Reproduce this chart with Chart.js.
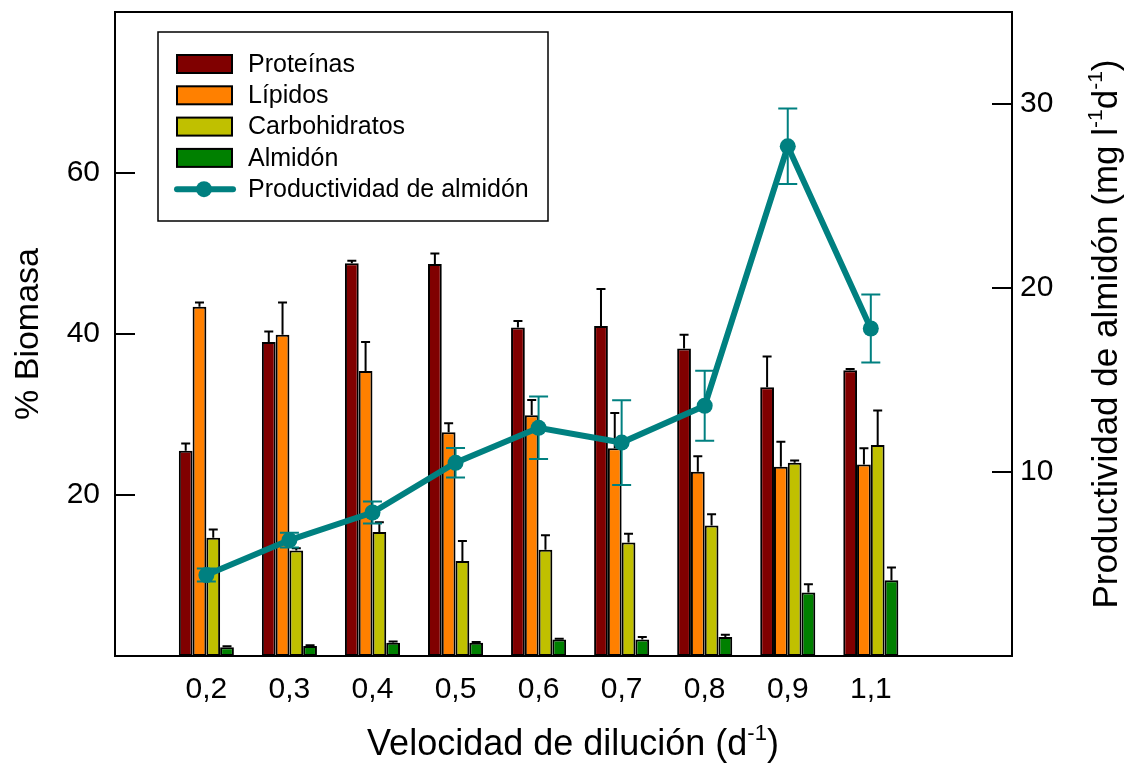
<!DOCTYPE html>
<html>
<head>
<meta charset="utf-8">
<script src="https://cdn.jsdelivr.net/npm/chart.js@4.4.1/dist/chart.umd.min.js"></script>
<style>
  html, body { margin: 0; padding: 0; background: #fff; }
  canvas { display: block; }
</style>
</head>
<body>
<canvas id="chart" width="1126" height="767"></canvas>
<script>
// Dilution rates (d-1)
const categories = ['0,2', '0,3', '0,4', '0,5', '0,6', '0,7', '0,8', '0,9', '1,1'];

// Biomass composition (%), mean and standard deviation
const proteinas        = [25.5, 39.0, 48.8, 48.7, 40.8, 41.0, 38.2, 33.4, 35.5];
const proteinasErr     = [0.9, 1.3, 0.3, 1.3, 0.8, 4.6, 1.7, 3.8, 0.15];
const lipidos          = [43.4, 39.9, 35.4, 27.8, 29.9, 25.8, 22.9, 23.5, 23.8];
const lipidosErr       = [0.5, 4.0, 3.6, 1.1, 1.9, 4.4, 1.9, 3.1, 2.0];
const carbohidratos    = [14.7, 13.1, 15.4, 11.8, 13.2, 14.1, 16.2, 24.0, 26.2];
const carbohidratosErr = [1.0, 0.3, 1.2, 2.5, 1.8, 1.1, 1.4, 0.3, 4.3];
const almidon          = [1.1, 1.25, 1.65, 1.65, 2.05, 2.05, 2.35, 7.9, 9.4];
const almidonErr       = [0.1, 0.1, 0.15, 0.1, 0.1, 0.3, 0.3, 1.0, 1.6];

// Starch productivity (mg l-1 d-1), mean and standard deviation
const productividad    = [4.4, 6.3, 7.8, 10.5, 12.4, 11.6, 13.6, 27.7, 17.8];
const productividadErr = [0.35, 0.4, 0.6, 0.8, 1.7, 2.3, 1.9, 2.05, 1.85];

// Tick values shown on each axis
const biomasaTicks       = [20, 40, 60];
const productividadTicks = [10, 20, 30];

const TEAL = '#008080';
const FONT = "'Liberation Sans', Arial, Helvetica, sans-serif";

const toPoints = (arr) => arr.map((v, i) => ({ x: i + 1, y: v }));

function barSet(label, values, errors, color) {
  return {
    type: 'bar',
    label,
    data: toPoints(values),
    values, errors,
    errorColor: '#000',
    symmetric: false,
    capHalf: 4.5,
    backgroundColor: color,
    borderColor: '#000',
    borderWidth: 2,
    borderSkipped: false,
    yAxisID: 'y',
    order: 1
  };
}

const datasets = [
  barSet('Proteínas', proteinas, proteinasErr, '#800000'),
  barSet('Lípidos', lipidos, lipidosErr, '#FF8000'),
  barSet('Carbohidratos', carbohidratos, carbohidratosErr, '#C0C000'),
  barSet('Almidón', almidon, almidonErr, '#008000'),
  {
    type: 'line',
    label: 'Productividad de almidón',
    data: toPoints(productividad),
    values: productividad,
    errors: productividadErr,
    errorColor: TEAL,
    symmetric: true,
    capHalf: 9.5,
    borderColor: TEAL,
    backgroundColor: TEAL,
    borderWidth: 6,
    pointRadius: 8,
    pointBorderWidth: 0,
    pointBackgroundColor: TEAL,
    tension: 0,
    yAxisID: 'y2',
    order: 0
  }
];

// Text with superscripts: parts = [[text, isSup], ...]
function drawRich(ctx, parts, size, cx, baseline) {
  const supSize = Math.round(size * 0.6);
  const widths = parts.map(([t, sup]) => {
    ctx.font = `${sup ? supSize : size}px ${FONT}`;
    return ctx.measureText(t).width;
  });
  const total = widths.reduce((a, b) => a + b, 0);
  let x = cx - total / 2;
  ctx.textAlign = 'left';
  ctx.textBaseline = 'alphabetic';
  parts.forEach(([t, sup], i) => {
    ctx.font = `${sup ? supSize : size}px ${FONT}`;
    ctx.fillText(t, x, sup ? baseline - size * 0.42 : baseline);
    x += widths[i];
  });
}

// Scales keep their fixed box; no extra room reserved for overhanging labels
function noOverhang(scale) {
  scale.paddingTop = 0;
  scale.paddingBottom = 0;
  scale.paddingLeft = 0;
  scale.paddingRight = 0;
}

const decor = {
  id: 'decor',
  afterDatasetDraw(chart, args) {
    const ds = chart.data.datasets[args.index];
    if (!ds.errors) return;
    const meta = args.meta;
    const yScale = chart.scales[meta.yAxisID];
    const ctx = chart.ctx;
    ctx.save();
    ctx.strokeStyle = ds.errorColor;
    ctx.lineWidth = 2;
    meta.data.forEach((el, i) => {
      const v = ds.values[i], e = ds.errors[i];
      const yTop = yScale.getPixelForValue(v + e);
      const yBot = yScale.getPixelForValue(ds.symmetric ? v - e : v);
      const x = el.x;
      ctx.beginPath();
      ctx.moveTo(x, yBot);
      ctx.lineTo(x, yTop);
      ctx.moveTo(x - ds.capHalf, yTop);
      ctx.lineTo(x + ds.capHalf, yTop);
      if (ds.symmetric) {
        ctx.moveTo(x - ds.capHalf, yBot);
        ctx.lineTo(x + ds.capHalf, yBot);
      }
      ctx.stroke();
    });
    ctx.restore();
  },
  afterDraw(chart) {
    const ctx = chart.ctx;
    const { left, right, top, bottom } = chart.chartArea;
    ctx.save();

    // plot frame
    ctx.strokeStyle = '#000';
    ctx.lineWidth = 2;
    ctx.strokeRect(left, top, right - left, bottom - top);

    // inward tick marks on both value axes
    ctx.beginPath();
    chart.scales.y.ticks.forEach(t => {
      const y = chart.scales.y.getPixelForValue(t.value);
      ctx.moveTo(left, y); ctx.lineTo(left + 20, y);
    });
    chart.scales.y2.ticks.forEach(t => {
      const y = chart.scales.y2.getPixelForValue(t.value);
      ctx.moveTo(right, y); ctx.lineTo(right - 20, y);
    });
    ctx.stroke();

    // axis titles with superscripts
    ctx.fillStyle = '#000';
    drawRich(ctx, [['Velocidad de dilución (d', false], ['-1', true], [')', false]],
      36, 573, 755);
    ctx.save();
    ctx.translate(1117, (top + bottom) / 2);
    ctx.rotate(-Math.PI / 2);
    drawRich(ctx, [['Productividad de almidón (mg l', false], ['-1', true], ['d', false], ['-1', true], [')', false]],
      35, 0, 0);
    ctx.restore();

    // legend
    const lx = 158, ly = 32, lw = 390, lh = 189;
    ctx.lineWidth = 1.5;
    ctx.strokeStyle = '#000';
    ctx.strokeRect(lx, ly, lw, lh);
    ctx.font = `25px ${FONT}`;
    ctx.textAlign = 'left';
    ctx.textBaseline = 'middle';
    chart.data.datasets.forEach((ds, i) => {
      const cy = 64 + i * 31.3;
      if (ds.type === 'bar') {
        ctx.fillStyle = ds.backgroundColor;
        ctx.fillRect(177, cy - 9, 55, 18);
        ctx.lineWidth = 2;
        ctx.strokeStyle = '#000';
        ctx.strokeRect(177, cy - 9, 55, 18);
      } else {
        ctx.strokeStyle = ds.borderColor;
        ctx.lineWidth = 6;
        ctx.lineCap = 'round';
        ctx.beginPath();
        ctx.moveTo(177, cy); ctx.lineTo(233, cy);
        ctx.stroke();
        ctx.lineCap = 'butt';
        ctx.fillStyle = ds.borderColor;
        ctx.beginPath();
        ctx.arc(204, cy, 8, 0, Math.PI * 2);
        ctx.fill();
      }
      ctx.fillStyle = '#000';
      ctx.fillText(ds.label, 248, cy + 1);
    });
    ctx.restore();
  }
};

new Chart(document.getElementById('chart'), {
  data: { datasets },
  plugins: [decor],
  options: {
    responsive: false,
    animation: false,
    layout: { padding: { top: 12, left: 0, right: 0, bottom: 0 } },
    datasets: {
      bar: { categoryPercentage: 0.663, barPercentage: 1.0 }
    },
    plugins: {
      legend: { display: false },
      tooltip: { enabled: false }
    },
    scales: {
      x: {
        type: 'linear',
        position: 'bottom',
        min: -0.1,
        max: 10.7,
        bounds: 'data',
        offset: false,
        grid: { display: false, drawTicks: false },
        border: { display: false },
        afterBuildTicks: (scale) => { scale.ticks = categories.map((_, i) => ({ value: i + 1 })); },
        afterFit: (scale) => { scale.height = 111; noOverhang(scale); },
        ticks: {
          autoSkip: false,
          maxRotation: 0,
          padding: 16,
          color: '#000',
          font: { family: FONT, size: 30 },
          callback: (v) => categories[Math.round(v) - 1]
        }
      },
      y: {
        type: 'linear',
        position: 'left',
        min: 0,
        max: 80,
        grid: { display: false, drawTicks: false },
        border: { display: false },
        afterBuildTicks: (scale) => { scale.ticks = biomasaTicks.map(v => ({ value: v })); },
        afterFit: (scale) => { scale.width = 115; noOverhang(scale); },
        ticks: {
          padding: 15,
          color: '#000',
          font: { family: FONT, size: 30 }
        },
        title: {
          display: true,
          text: '% Biomasa',
          color: '#000',
          font: { family: FONT, size: 34 },
          padding: { top: 8, bottom: 0 }
        }
      },
      y2: {
        type: 'linear',
        position: 'right',
        min: 0,
        max: 35,
        grid: { display: false, drawTicks: false },
        border: { display: false },
        afterBuildTicks: (scale) => { scale.ticks = productividadTicks.map(v => ({ value: v })); },
        afterFit: (scale) => { scale.width = 114; noOverhang(scale); },
        ticks: {
          padding: 8,
          color: '#000',
          font: { family: FONT, size: 30 }
        }
      }
    }
  }
});
</script>
</body>
</html>
